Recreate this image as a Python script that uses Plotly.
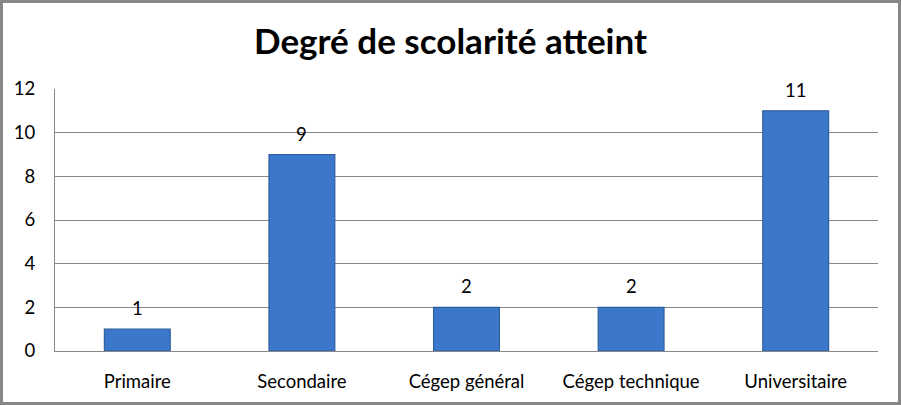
import plotly.graph_objects as go

categories = ["Primaire", "Secondaire", "Cégep général", "Cégep technique", "Universitaire"]
values = [1, 9, 2, 2, 11]
y_ticks = [0, 2, 4, 6, 8, 10, 12]
title_text = "Degré de scolarité atteint"

FONT = "Lato, Carlito, Calibri, 'Open Sans', sans-serif"

fig = go.Figure()
fig.add_trace(go.Bar(
    x=categories, y=values,
    marker=dict(color="#3b78cb", line=dict(color="#2f5e9e", width=1.2)),
    hoverinfo="x+y",
))

for c, v in zip(categories, values):
    fig.add_annotation(x=c, y=v, text=str(v), showarrow=False, yshift=21,
                       yanchor="middle", font=dict(family=FONT, size=18.5, color="#000000"))

fig.update_layout(
    width=901, height=405,
    margin=dict(l=55, r=23, t=89, b=54),
    paper_bgcolor="white", plot_bgcolor="white",
    bargap=0.6,
    showlegend=False,
    title=dict(text="<b>%s</b>" % title_text, x=0.5, xanchor="center",
               y=1 - 42 / 405, yanchor="middle",
               font=dict(family=FONT, size=35, color="#000000")),
    font=dict(family=FONT, size=18.5, color="#000000"),
)
fig.update_yaxes(range=[0, 12], tickvals=y_ticks, showgrid=True, gridcolor="#888888", gridwidth=1,
                 showline=True, linecolor="#888888", linewidth=1, ticks="",
                 ticklabelstandoff=15, tickfont=dict(family=FONT, size=18.5), zeroline=False)
fig.update_xaxes(showline=True, linecolor="#888888", linewidth=1, ticks="",
                 ticklabelstandoff=14, tickfont=dict(family=FONT, size=18.5))

fig.add_shape(type="rect", xref="paper", yref="paper",
              x0=-55 / 823 + 1.5 / 823, x1=1 + 23 / 823 - 1.5 / 823,
              y0=-54 / 262 + 1.5 / 262, y1=1 + 89 / 262 - 1.5 / 262,
              line=dict(color="#878787", width=3), layer="above")

fig.write_html("out.html", config={"displayModeBar": False},
               post_script="document.body.style.margin='0';document.body.style.overflow='hidden';")
